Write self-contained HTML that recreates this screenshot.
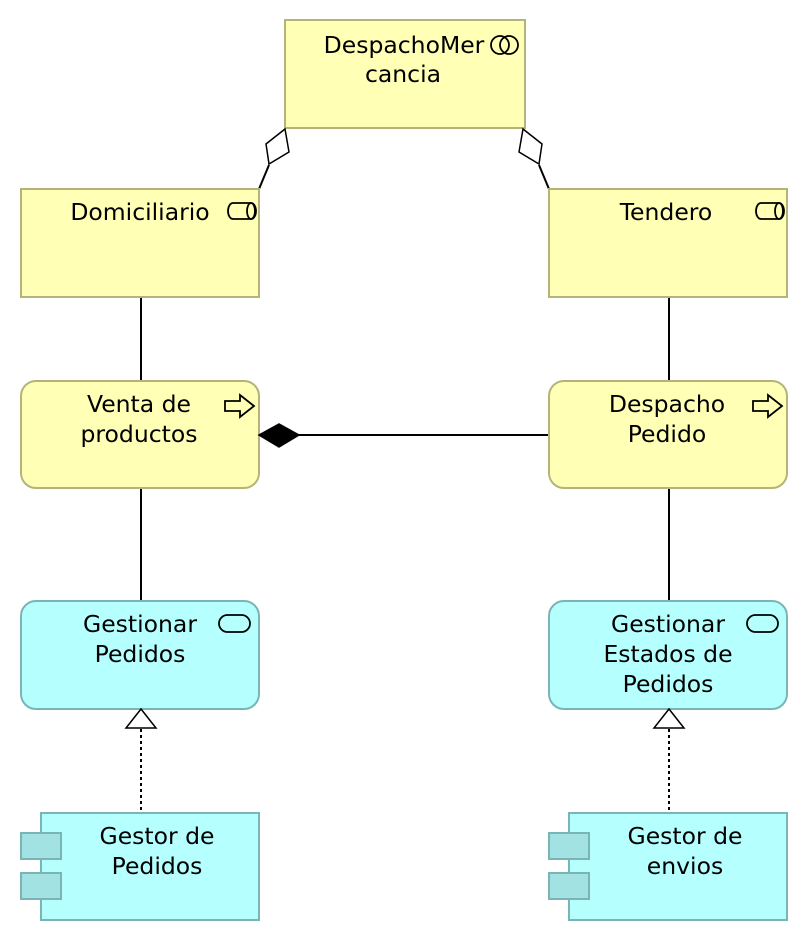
<!DOCTYPE html>
<html><head><meta charset="utf-8"><style>body{margin:0;background:#fff}svg{display:block}text{font-family:"DejaVu Sans","Liberation Sans",sans-serif;font-size:23.5px;fill:#000;text-anchor:middle}</style></head><body>
<svg width="808" height="942" viewBox="0 0 808 942" xmlns="http://www.w3.org/2000/svg">
<g stroke="#000" stroke-width="2" fill="none">
<line x1="141" y1="297" x2="141" y2="381"/><line x1="141" y1="488" x2="141" y2="601"/>
<line x1="669" y1="297" x2="669" y2="381"/><line x1="669" y1="488" x2="669" y2="601"/>
<line x1="299" y1="435" x2="549" y2="435"/>
<line x1="269" y1="165" x2="259" y2="189"/><line x1="539" y1="165" x2="549" y2="189"/>
<line x1="141" y1="729" x2="141" y2="813" stroke-dasharray="3,3"/>
<line x1="669" y1="729" x2="669" y2="813" stroke-dasharray="3,3"/>
</g>
<g stroke-width="2">
<rect x="285" y="20" width="240" height="108" fill="#ffffb5" stroke="#b4b47a"/>
<rect x="21" y="189" width="238" height="108" fill="#ffffb5" stroke="#b4b47a"/>
<rect x="549" y="189" width="238" height="108" fill="#ffffb5" stroke="#b4b47a"/>
<rect x="21" y="381" width="238" height="107" rx="15" fill="#ffffb5" stroke="#b4b47a"/>
<rect x="549" y="381" width="238" height="107" rx="15" fill="#ffffb5" stroke="#b4b47a"/>
<rect x="21" y="601" width="238" height="108" rx="15" fill="#b5ffff" stroke="#7ab4b4"/>
<rect x="549" y="601" width="238" height="108" rx="15" fill="#b5ffff" stroke="#7ab4b4"/>
<rect x="41" y="813" width="218" height="107" fill="#b5ffff" stroke="#7ab4b4"/>
<rect x="21" y="833" width="40" height="26" fill="#a3e2e2" stroke="#7ab4b4"/>
<rect x="21" y="873" width="40" height="26" fill="#a3e2e2" stroke="#7ab4b4"/>
<rect x="569" y="813" width="218" height="107" fill="#b5ffff" stroke="#7ab4b4"/>
<rect x="549" y="833" width="40" height="26" fill="#a3e2e2" stroke="#7ab4b4"/>
<rect x="549" y="873" width="40" height="26" fill="#a3e2e2" stroke="#7ab4b4"/>
</g>
<g stroke="#000" stroke-width="1.5">
<polygon points="285,129 266,144 269,164 289,152" fill="#fff"/>
<polygon points="523,129 542,144 539,164 519,152" fill="#fff"/>
<polygon points="259,435 279,424 299,435 279,447" fill="#000"/>
<polygon points="141,709 126,728 156,728" fill="#fff"/>
<polygon points="669,709 654,728 684,728" fill="#fff"/>
</g>
<g stroke="#000" stroke-width="1.8" fill="none">
<circle cx="500" cy="45" r="9"/><circle cx="509" cy="45" r="9"/>
<path d="M233,203 H251 A5,8 0 0 1 251,219 H233 A5,8 0 0 1 233,203Z"/><ellipse cx="251" cy="211" rx="4" ry="8"/>
<path d="M761,203 H779 A5,8 0 0 1 779,219 H761 A5,8 0 0 1 761,203Z"/><ellipse cx="779" cy="211" rx="4" ry="8"/>
<path d="M225,401 H240 V395 L254,406 L240,417 V411 H225Z"/>
<path d="M753,401 H768 V395 L782,406 L768,417 V411 H753Z"/>
<rect x="219" y="615" width="31" height="17" rx="8.5"/>
<rect x="747" y="615" width="31" height="17" rx="8.5"/>
</g>
<text x="404" y="53">DespachoMer</text><text x="403" y="82">cancia</text>
<text x="140" y="220">Domiciliario</text>
<text x="666" y="220">Tendero</text>
<text x="139" y="412">Venta de</text><text x="139" y="442">productos</text>
<text x="667" y="412">Despacho</text><text x="667" y="442">Pedido</text>
<text x="140" y="632">Gestionar</text><text x="140" y="662">Pedidos</text>
<text x="668" y="632">Gestionar</text><text x="668" y="662">Estados de</text><text x="668" y="692">Pedidos</text>
<text x="157" y="844">Gestor de</text><text x="157" y="874">Pedidos</text>
<text x="685" y="844">Gestor de</text><text x="685" y="874">envios</text>
</svg>
</body></html>
